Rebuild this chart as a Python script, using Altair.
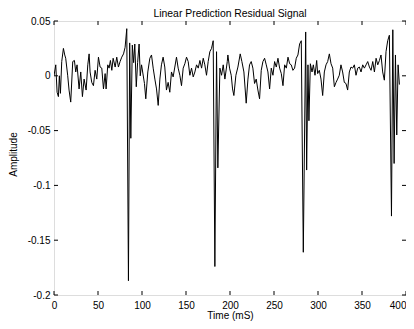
import altair as alt
import pandas as pd

# --- data ---
time_ms = [
    0, 2, 3.5, 5, 6.1, 7.3, 8.8, 10.7, 12.2, 13.3, 15.6, 17.1, 19, 21.3, 23.2, 24.7,
    26.2, 28.5, 30.4, 32.3, 34.2, 36.5, 38.4, 39.9, 41, 42.9, 44.8, 46.7, 48.6, 50.5,
    52.4, 54.3, 56.2, 58.1, 59.2, 61.1, 62.6, 64.1, 65.7, 67.2, 69.5, 71.3, 73.2, 75.1,
    77, 79, 80.8, 82.7, 84.6, 86, 87.3, 89, 90.5, 91.8, 93.5, 95, 96.7, 98, 99.5,
    102.8, 104.3, 106.6, 108.9, 110.8, 112.7, 114.6, 116.5, 118.4, 120.3, 122.1, 124,
    125.9, 127.8, 129.7, 131.6, 133.5, 135.4, 137.3, 139.2, 141.1, 143, 144.9, 146.8,
    148.7, 150.6, 152.5, 154.4, 156.3, 158.2, 160.1, 162, 163.9, 165.8, 167.7, 169.6,
    171.4, 173.3, 175.2, 177.1, 179, 180.9, 182.8, 184.7, 186.2, 188.5, 190.4, 192.3,
    194.2, 196.9,
    197.6, 199.5, 201.4, 202.9, 204.4, 206.7, 209, 211.6, 213.5, 215.8, 218.4, 220.4,
    222.2, 224.1, 226, 227.9, 229.8, 231.7, 233.6, 235.5, 237.4, 239.3, 241.2, 243.1,
    245, 246.9, 248.8, 250.7, 252.6, 254.5, 256.4, 258.3, 260.2, 262.1, 264, 265.9,
    267.8, 269.6, 271.5, 273.4, 275.3, 277.2, 279.1, 281, 283.3, 286, 287.1, 288.6,
    289.7, 291.3, 293.2, 294.7, 296.6, 298.5,
    299.6, 301.5, 303.4, 305.3, 307.2, 309.1, 311, 312.9, 314.8, 316.7, 318.6, 320.5,
    322.3, 324.2, 326.1, 328, 329.9, 331.8, 333.7, 335.6, 337.5, 339.4, 341.3, 343.2,
    345.1, 347, 348.9, 350.8, 352.7, 354.6, 356.5, 358.4, 360.3, 362.2, 364.1, 366,
    367.9, 369.8, 371.6, 373.5, 375.4, 377.3, 379.2, 381.1, 383.5, 385, 386.5, 388,
    389.5, 391, 392.5,
]
amplitude = [
    0.0, 0.010, -0.015, -0.019, 0.0, -0.016, 0.013, 0.025, 0.019, 0.016, 0.0, -0.013,
    -0.024, 0.013, 0.014, 0.0035, 0.010, -0.012, 0.0035, -0.019, -0.003, -0.013, 0.010,
    0.020, 0.0035, -0.006, -0.009, 0.005, -0.003, 0.017, 0.008, 0.007, -0.012, 0.002,
    -0.012, 0.010, 0.007, 0.014, 0.005, 0.016, 0.008, 0.017, 0.008, 0.013, 0.017, 0.020,
    0.026, 0.043, -0.187, 0.030, -0.057, 0.028, 0.012, 0.029, -0.010, 0.012, 0.029, 0.0,
    0.010,
    -0.007, -0.021, 0.0035, 0.016, 0.019, 0.007, -0.003, -0.012, -0.027, -0.003, 0.010,
    0.017, 0.008, -0.013, -0.006, -0.015, 0.0035, -0.001, 0.008, 0.017, 0.007, 0.0005,
    -0.009, 0.007, 0.011, 0.017, 0.013, 0.0005, 0.007, -0.001, 0.0035, 0.010, 0.007,
    0.014, 0.007, 0.016, 0.010, 0.0005, 0.013, 0.022, 0.025, 0.032, -0.174, 0.022,
    -0.084, 0.007, 0.0005, 0.010, -0.003, 0.013,
    0.019, 0.007, 0.0005, -0.012, -0.018, 0.0005, 0.008, 0.020, 0.013, 0.0035, -0.025,
    -0.003, 0.010, 0.013, 0.007, -0.007, -0.003, -0.013, -0.021, 0.005, 0.013, 0.016,
    0.010, 0.0035, -0.012, 0.007, 0.0005, 0.013, 0.008, 0.016, 0.007, 0.002, -0.009,
    0.010, 0.007, 0.017, 0.011, 0.010, 0.005, 0.007, 0.016, 0.019, 0.029, 0.032, -0.161,
    0.040, -0.086, 0.010, -0.041, 0.011, 0.0035, 0.010, 0.0005, 0.014,
    0.002, 0.005, -0.003, -0.018, 0.0035, 0.010, 0.013, 0.020, 0.011, 0.007, -0.010,
    -0.006, -0.003, 0.0005, 0.010, 0.0035, -0.006, -0.007, -0.013, 0.0035, 0.008, 0.007,
    0.010, 0.0005, 0.007, 0.008, 0.0035, 0.010, 0.007, 0.010, 0.013, 0.008, 0.005,
    0.013, 0.0035, 0.016, 0.010, 0.014, 0.019, 0.0035, -0.004, 0.022, 0.032, 0.037,
    -0.128, 0.042, -0.080, 0.019, -0.054, 0.010, -0.008,
]
x_ticks = [0, 50, 100, 150, 200, 250, 300, 350, 400]
y_ticks = [-0.2, -0.15, -0.1, -0.05, 0, 0.05]

W, H = 352, 274
FONT = "Liberation Sans"

signal = pd.DataFrame({"t": time_ms, "v": amplitude})
xt = pd.DataFrame({"x": x_ticks})
yt = pd.DataFrame({"y": y_ticks})

xscale = alt.Scale(domain=[0, 400], nice=False, zero=False)
yscale = alt.Scale(domain=[-0.2, 0.05], nice=False, zero=False)

label_expr = "datum.value == 0 ? '0' : (datum.value < 0 ? '-' : '') + format(abs(datum.value), '~g')"

line = alt.Chart(signal).mark_line(color="black", strokeWidth=1, clip=True).encode(
    x=alt.X("t:Q", scale=xscale,
            axis=alt.Axis(values=x_ticks, title="Time (mS)", domain=False, ticks=False,
                          grid=False, labelPadding=5, titlePadding=0,
                          labelAlign=alt.condition("datum.value >= 400",
                                                   alt.value("right"), alt.value("center")),
                          labelFont=FONT, labelFontSize=10, labelColor="black",
                          titleFont=FONT, titleFontSize=10, titleFontWeight="normal",
                          titleColor="black", labelFlush=False)),
    y=alt.Y("v:Q", scale=yscale,
            axis=alt.Axis(values=y_ticks, title="Amplitude", domain=False, ticks=False,
                          grid=False, labelPadding=4,
                          titleX=-41, titleY=H / 2 - 4, titleAngle=270,
                          titleAlign="center", titleBaseline="middle",
                          labelExpr=label_expr,
                          labelFont=FONT, labelFontSize=10, labelColor="black",
                          titleFont=FONT, titleFontSize=10, titleFontWeight="normal",
                          titleColor="black", labelFlush=False)),
)

tick_bottom = alt.Chart(xt).mark_rule(color="black", strokeWidth=1).encode(
    x=alt.X("x:Q", scale=xscale), y=alt.value(H - 4), y2=alt.value(H))
tick_top = alt.Chart(xt).mark_rule(color="black", strokeWidth=1).encode(
    x=alt.X("x:Q", scale=xscale), y=alt.value(0), y2=alt.value(4))
tick_left = alt.Chart(yt).mark_rule(color="black", strokeWidth=1).encode(
    y=alt.Y("y:Q", scale=yscale), x=alt.value(0), x2=alt.value(4))
tick_right = alt.Chart(yt).mark_rule(color="black", strokeWidth=1).encode(
    y=alt.Y("y:Q", scale=yscale), x=alt.value(W - 4), x2=alt.value(W))

chart = alt.layer(line, tick_bottom, tick_top, tick_left, tick_right).properties(
    width=W, height=H,
    title=alt.TitleParams("Linear Prediction Residual Signal", font=FONT, fontSize=10.4,
                          fontWeight="normal", color="black", offset=-3, anchor="middle"),
    autosize=alt.AutoSizeParams(type="none"),
    padding={"left": 46, "top": 13, "right": 0, "bottom": 26},
).configure_view(stroke="black", strokeWidth=1).configure(background="white")

chart.save("out.html", embed_options={"renderer": "svg", "actions": False})
